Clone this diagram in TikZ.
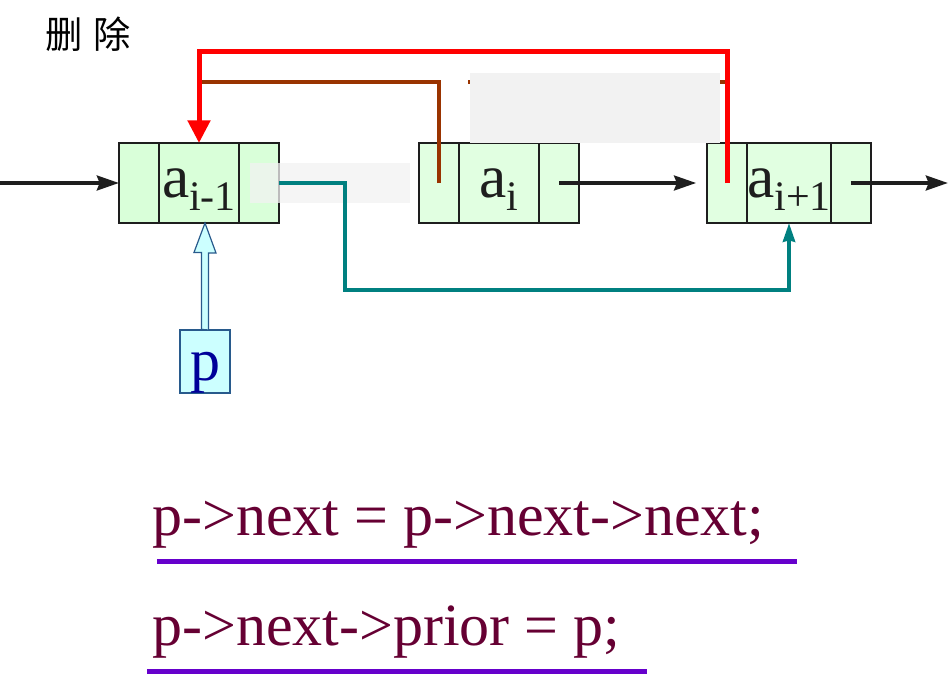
\documentclass[tikz,border=0pt]{standalone}
\usepackage{fontspec}
\setmainfont{Liberation Serif}
\newfontfamily\cjk{Noto Sans CJK SC}
\usetikzlibrary{arrows.meta,positioning}
\definecolor{cellfill}{RGB}{225,255,225}
\definecolor{curfill}{RGB}{217,255,217}
\definecolor{edge}{RGB}{30,30,30}
\definecolor{redln}{RGB}{255,0,0}
\definecolor{brownln}{RGB}{153,51,0}
\definecolor{tealln}{RGB}{0,128,128}
\definecolor{mask}{RGB}{242,242,242}
\definecolor{pfill}{RGB}{204,255,255}
\definecolor{pedge}{RGB}{40,90,140}
\definecolor{pblue}{RGB}{0,0,153}
\definecolor{codecol}{RGB}{102,0,51}
\definecolor{ulcol}{RGB}{102,0,204}
\newcommand\lowsub[1]{\raisebox{-0.22em}{\fontsize{31.5pt}{31.5pt}\selectfont #1}}
\tikzset{
  cell/.style  ={draw=edge,line width=1.1pt,fill=cellfill,minimum width=30pt,minimum height=60pt,inner sep=0pt,outer sep=0pt},
  dat/.style   ={cell,minimum width=60pt,font=\fontsize{46pt}{46pt}\selectfont,text=edge,text height=21.5pt,text depth=0pt},
  cur/.style   ={fill=curfill},
  ar/.style    ={draw=edge,line width=3pt,-{Stealth[length=16.5pt,width=11pt,inset=2pt]}},
  redar/.style ={draw=redln,line width=3.75pt,-{Triangle[length=17pt,width=16.5pt]}},
  brown/.style ={draw=brownln,line width=2.6pt},
  tealar/.style={draw=tealln,line width=3pt,-{Stealth[length=14pt,width=9pt,inset=1pt]}},
  hollow/.style={draw=pedge,line width=0.9pt,fill=pfill},
  pbox/.style  ={draw=pedge,line width=0.9pt,fill=pfill,minimum width=37.5pt,minimum height=47.25pt,inner sep=0pt,
                 font=\fontsize{45pt}{45pt}\selectfont,text=pblue,text height=28pt,text depth=0pt},
  code/.style  ={font=\fontsize{45pt}{45pt}\selectfont,text=codecol,inner sep=0pt,anchor=base west},
  uline/.style ={draw=ulcol,line width=3.75pt},
}
\begin{document}
\begin{tikzpicture}[x=0.75pt,y=-0.75pt]
  \useasboundingbox (0,0) rectangle (950,674);
  \node[font=\cjk\fontsize{28pt}{28pt}\selectfont,inner sep=0pt] (title) at (88,34){删\hspace{0.3em}除};
  % three list nodes: prior | data | next
  \node[dat,cur] (a1) at (199,183){a\lowsub{i-1}};
  \node[cell,cur,left=0pt of a1] (a1p){}; \node[cell,cur,right=0pt of a1] (a1n){};
  \node[dat] (a2) at (499,183){a\lowsub{i}};
  \node[cell,left=0pt of a2] (a2p){}; \node[cell,right=0pt of a2] (a2n){};
  \node[dat] (a3) at (789,183){a\lowsub{i+1}};
  \node[cell,left=0pt of a3] (a3p){}; \node[cell,right=0pt of a3] (a3n){};
  \coordinate (in) at (0,183); \coordinate (out) at (948,183);
  \coordinate (ptop) at (199,82);
  \draw[ar] (in) -- (a1p.west);
  \draw[ar] (a2n.center) -- ([xshift=-8.25pt]a3p.west);
  \draw[ar] (a3n.center) -- (out);
  % old prior link, partly masked
  \draw[brown] (a2p.center) |- (ptop);
  \draw[brown] (a3p.center |- ptop) -- ++(-259,0);
  \fill[mask] (470,73) rectangle (720,143);
  \draw[redar] (a3p.center) -- ++(0,-131) -| (a1.north);
  \fill[mask,opacity=0.75] (250,163) rectangle (410,203);
  \draw[tealar] (a1n.east) -- ++(66,0) -- ++(0,107) -| (a3.south);
  % pointer p
  \node[pbox] (p) at (205,361.5){p};
  \draw[hollow] (p.north) ++(-3.5,0) -- ++(0,-77) -- ++(-7.5,0) -- (p.north |- a1.south)
    -- ++(11,30) -- ++(-7.5,0) -- ++(0,77) -- cycle;
  \node[code] (c1) at (152,535){p->next = p->next->next;};
  \node[code] (c2) at (152,645){p->next->prior = p;};
  \draw[uline] (157,561) -- (797,561);
  \draw[uline] (147,671) -- (647,671);
\end{tikzpicture}
\end{document}
